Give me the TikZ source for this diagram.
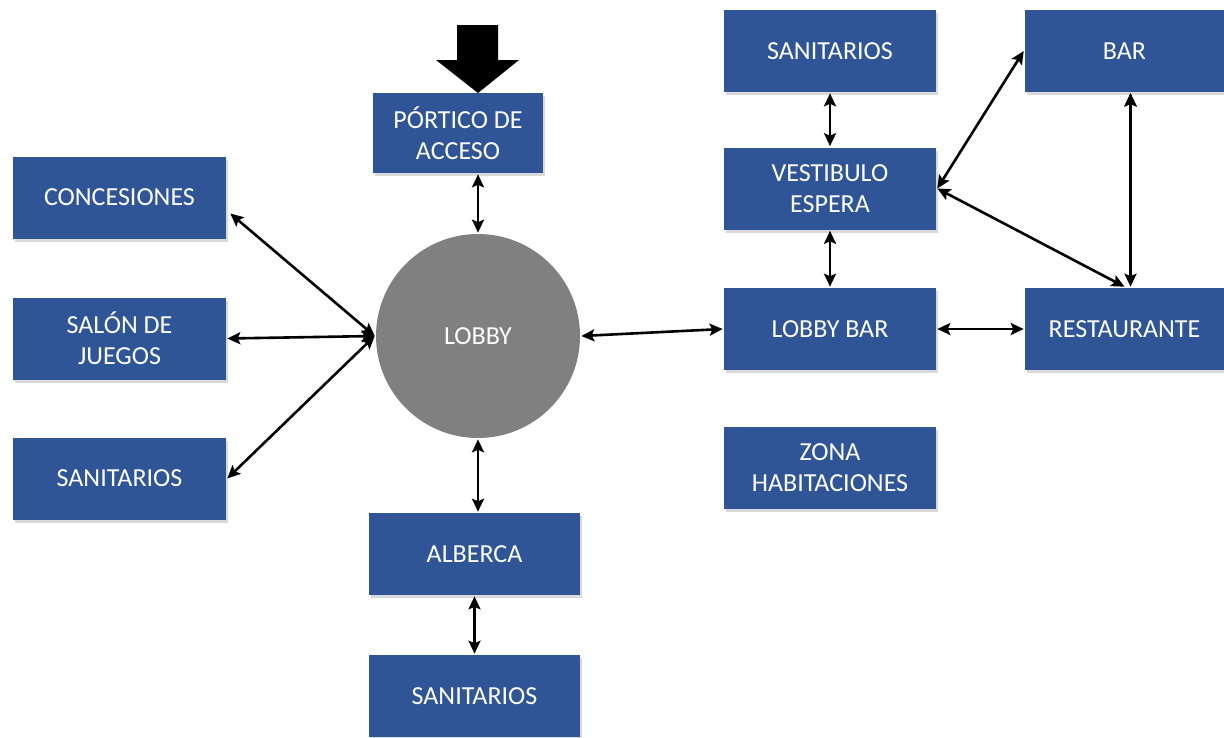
\documentclass[tikz,border=0pt]{standalone}
\usepackage{fontspec}
\setmainfont{Carlito}
\usetikzlibrary{arrows.meta,positioning,shadows,calc}
\definecolor{boxblue}{RGB}{47,85,151}
\definecolor{lobbygray}{RGB}{128,128,128}

\begin{document}
\begin{tikzpicture}[x=1pt,y=-1pt,<->,>={Stealth[length=13pt,width=12pt,inset=2.5pt]},line width=2.6pt,
		area/.style={rectangle,fill=boxblue,text=white,minimum width=212pt,minimum height=82pt,inner sep=0pt,align=center,
			font=\fontsize{26}{31}\selectfont,drop shadow={shadow xshift=2pt,shadow yshift=-3pt,opacity=.3}},
		hub/.style={circle,fill=lobbygray,text=white,minimum size=204pt,inner sep=0pt,font=\fontsize{26}{31}\selectfont}]
		\useasboundingbox (0,0) rectangle (1224,737);

		\node[hub] (lobby) at (478,336) {LOBBY};
		\node[area,minimum width=170pt,minimum height=80pt] (portico) at (458,133) {PÓRTICO DE\\ACCESO};
		\node[area,minimum width=213pt] (conc) at (119.5,197.5) {CONCESIONES};
		\node[area,minimum width=213pt] (salon) at (119.5,338.5) {SALÓN DE\\JUEGOS};
		\node[area,minimum width=213pt] (sanleft) at (119.5,478.5) {SANITARIOS};
		\node[area,minimum width=211pt] (alberca) at (474.5,554) {ALBERCA};
		\node[area,minimum width=211pt] (sanbottom) at (474.5,696) {SANITARIOS};
		\node[area] (santop) at (830,51) {SANITARIOS};
		\node[area] (vest) at (830,188.5) {VESTIBULO\\ESPERA};
		\node[area] (lbar) at (830,329) {LOBBY BAR};
		\node[area] (zona) at (830,468) {ZONA\\HABITACIONES};
		\node[area,minimum width=199pt] (bar) at (1124.5,51) {BAR};
		\node[area,minimum width=199pt] (rest) at (1124.5,329) {RESTAURANTE};

		% entrada
		\fill[black] (457,25) -- (498,25) -- (498,60) -- (519,60) -- (478,93) -- (436,60) -- (457,60) -- cycle;

		\draw 	(lobby.north |- portico.south) edge (lobby.north)
				(lobby.west) edge ($(conc.east)+(3,16)$)
				(lobby.west) edge (salon.east)
				(lobby.west) edge (sanleft.east)
				(lobby.south) edge (lobby.south |- alberca.north)
				(alberca.south) edge (sanbottom.north)
				(lobby.east) edge (lbar.west)
				(santop.south) edge (vest.north)
				(vest.south) edge (lbar.north)
				(lbar.east) edge (rest.west)
				(vest.east) edge (bar.west)
				(vest.east) edge (rest.north)
				($(bar.south)+(6,0)$) edge ($(rest.north)+(6,0)$);
\end{tikzpicture}
\end{document}
